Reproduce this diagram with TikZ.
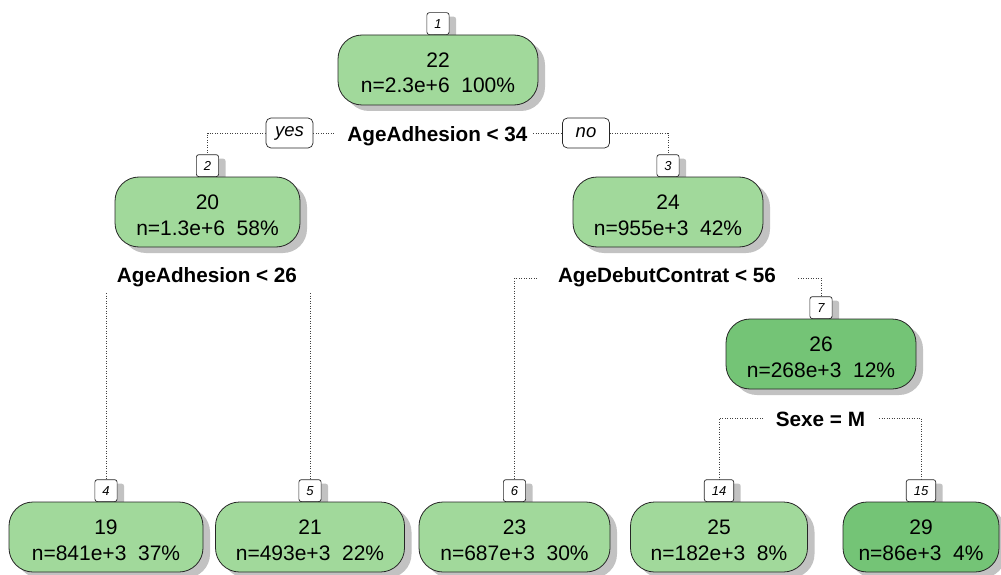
\documentclass[tikz,border=0pt]{standalone}
\usepackage{fontspec}
\setmainfont{Liberation Sans}
\usetikzlibrary{shadows}

\definecolor{greenLight}{HTML}{A1D99B}
\definecolor{greenDark}{HTML}{74C476}
\definecolor{shade}{HTML}{C2C2C2}

\tikzset{
  treebox/.style={draw=black!85, line width=0.8pt, rounded corners=24pt,
    minimum height=70pt, inner sep=0pt,
    drop shadow={shadow xshift=7pt, shadow yshift=-6pt, fill=shade, opacity=1}},
  valtext/.style={font=\fontsize{21}{25}\selectfont, anchor=base, inner sep=0pt},
  idbox/.style={draw=black!85, fill=white, line width=0.7pt, rounded corners=2.5pt,
    minimum height=22pt, minimum width=21pt, inner ysep=0pt, inner xsep=7.5pt,
    font=\fontsize{13}{15}\selectfont\itshape, anchor=south,
    drop shadow={shadow xshift=7pt, shadow yshift=-4pt, fill=shade, opacity=1}},
  splittext/.style={font=\fontsize{20.7}{24}\selectfont\bfseries, anchor=base, inner sep=0pt},
  answer/.style={draw=black!85, fill=white, line width=0.7pt, rounded corners=5pt,
    minimum height=30pt, minimum width=47pt, inner sep=0pt,
    font=\fontsize{18.5}{21}\selectfont\itshape},
  link/.style={draw=black!75, line width=0.7pt, dash pattern=on 0.9pt off 1.6pt},
}

\newcommand\pctgap{\hspace{0.556em}}
% #1 name, #2 x, #3 y, #4 width, #5 fill, #6 node number, #7 fitted value, #8 count and share
\newcommand\treenode[8]{%
  \node[idbox] (#1id) at (#2,#3-35) {#6};
  \node[treebox, fill=#5, minimum width=#4] (#1) at (#2,#3) {};
  \node[valtext] (#1v) at (#2,#3-2.5) {#7};
  \node[valtext] (#1n) at (#2,#3+23) {#8};
}

\begin{document}
\begin{tikzpicture}[x=1pt, y=-1pt]
\fill[white] (0,0) rectangle (1001,575);
\useasboundingbox (0,0) rectangle (1001,575);

% internal nodes
\treenode{root}{438}{70}{200}{greenLight}{1}{22}{n=2.3e+6\pctgap 100\%}
\treenode{nA}{207.5}{212}{185}{greenLight}{2}{20}{n=1.3e+6\pctgap 58\%}
\treenode{nB}{668}{212}{190}{greenLight}{3}{24}{n=955e+3\pctgap 42\%}
\treenode{nC}{821}{354}{190}{greenDark}{7}{26}{n=268e+3\pctgap 12\%}

% leaves
\treenode{lA}{106}{537}{194}{greenLight}{4}{19}{n=841e+3\pctgap 37\%}
\treenode{lB}{310}{537}{189}{greenLight}{5}{21}{n=493e+3\pctgap 22\%}
\treenode{lC}{514.5}{537}{191}{greenLight}{6}{23}{n=687e+3\pctgap 30\%}
\treenode{lD}{719}{537}{177}{greenLight}{14}{25}{n=182e+3\pctgap 8\%}
\treenode{lE}{921}{537}{156}{greenDark}{15}{29}{n=86e+3\pctgap 4\%}

% split rules
\node[splittext] (sRoot) at (437.5,141.4) {AgeAdhesion < 34};
\node[splittext] (sA) at (207,282) {AgeAdhesion < 26};
\node[splittext] (sB) at (667,282.5) {AgeDebutContrat < 56};
\node[splittext] (sC) at (820.5,426) {Sexe = M};

% branch answers
\node[answer] (yes) at (289.5,133) {yes};
\node[answer] (no) at (586,133) {no};

% branches of the root split
\coordinate (yesEnd) at (334,133);
\coordinate (noEnd) at (533,133);
\draw[link] (yes.west) -| (nAid.north);
\draw[link] (yes.east) -- (yesEnd);
\draw[link] (noEnd) -- (no.west);
\draw[link] (no.east) -| (nBid.north);

% branches of node 2
\coordinate (aL) at (106,293);
\coordinate (aR) at (310,293);
\draw[link] (aL) -- (lAid.north);
\draw[link] (aR) -- (lBid.north);

% branches of node 3
\coordinate (bL) at (537,278);
\coordinate (bR) at (798,278);
\draw[link] (bL) -| (lCid.north);
\draw[link] (bR) -| (nCid.north);

% branches of node 7
\coordinate (cL) at (763,418);
\coordinate (cR) at (879,418);
\draw[link] (cL) -| (lDid.north);
\draw[link] (cR) -| (lEid.north);
\end{tikzpicture}
\end{document}
